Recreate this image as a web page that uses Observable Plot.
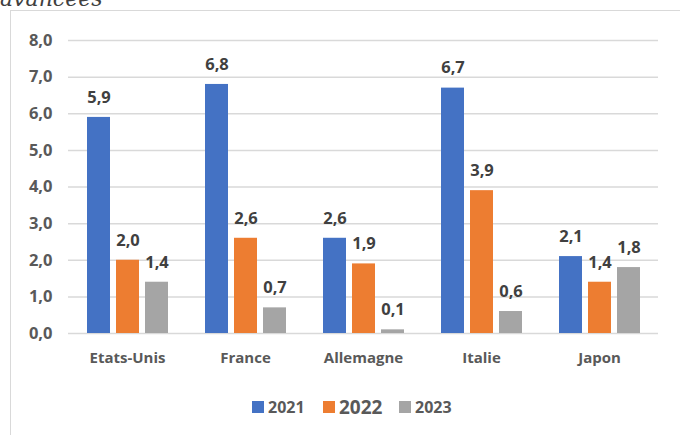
<!DOCTYPE html>
<html>
<head>
<meta charset="utf-8">
<script src="https://cdn.jsdelivr.net/npm/d3@7"></script>
<script src="https://cdn.jsdelivr.net/npm/@observablehq/plot@0.6"></script>
<style>
  html, body { margin: 0; padding: 0; background: #fff; width: 680px; height: 435px; overflow: hidden; position: relative; font-family: "Open Sans", sans-serif; }
  #title { position: absolute; left: 0; top: -12px; font: italic 22px/22px "DejaVu Serif", serif; color: #404040; white-space: nowrap; }
  #frame { position: absolute; left: 10px; top: 10px; width: 700px; height: 440px; border-left: 1px solid #d9d9d9; border-top: 1px solid #d9d9d9; }
  #chart { position: absolute; left: 0; top: 0; }
  #legend { position: absolute; top: 396px; left: 0; width: 680px; height: 22px; }
  .item { position: absolute; top: 0; display: flex; align-items: center; height: 22px; color: #595959; font-weight: bold; }
  .sw { width: 12px; height: 12px; margin-right: 4px; }
</style>
</head>
<body>
<div id="title">avancées</div>
<div id="frame"></div>
<div id="chart"></div>
<div id="legend"></div>
<script>
const countries = ["Etats-Unis", "France", "Allemagne", "Italie", "Japon"];
const years = ["2021", "2022", "2023"];
const values2021 = [5.9, 6.8, 2.6, 6.7, 2.1];
const values2022 = [2.0, 2.6, 1.9, 3.9, 1.4];
const values2023 = [1.4, 0.7, 0.1, 0.6, 1.8];
const colors = ["#4472C4", "#ED7D31", "#A5A5A5"];
const yTicks = [0, 1, 2, 3, 4, 5, 6, 7, 8];

const series = [values2021, values2022, values2023];
const data = [];
countries.forEach((c, i) => years.forEach((y, j) => data.push({country: c, year: y, value: series[j][i]})));
const fmt = d => d.toFixed(1).replace(".", ",");

const plot = Plot.plot({
  width: 680,
  height: 380,
  marginTop: 40,
  marginBottom: 47,
  marginLeft: 68,
  marginRight: 22,
  style: {fontFamily: "'Open Sans', sans-serif", background: "transparent"},
  fx: {domain: countries, padding: 0},
  x: {domain: years, paddingInner: 0.22, paddingOuter: 0.61},
  y: {domain: [0, 8]},
  color: {domain: years, range: colors},
  marks: [
    Plot.ruleY(yTicks, {stroke: "#d9d9d9", strokeWidth: 1.5}),
    Plot.axisY({ticks: yTicks, tickFormat: fmt, tickSize: 0, tickPadding: 16, label: null, fontSize: 16.5, fontWeight: "bold", fill: "#595959"}),
    Plot.axisFx({anchor: "bottom", tickSize: 0, tickPadding: 19, label: null, fontSize: 15, fontWeight: "bold", fill: "#595959"}),
    Plot.axisX({ticks: [], label: null}),
    Plot.barY(data, {fx: "country", x: "year", y: "value", fill: "year"}),
    Plot.text(data, {fx: "country", x: "year", y: "value", text: d => fmt(d.value), dy: -20, fontSize: 16.5, fontWeight: "bold", fill: "#404040"})
  ]
});
document.getElementById("chart").appendChild(plot);

const legend = document.getElementById("legend");
const lx = [252, 323, 399];
const sizes = [16, 19, 16];
years.forEach((y, j) => {
  const it = document.createElement("div");
  it.className = "item";
  it.style.left = lx[j] + "px";
  it.style.fontSize = sizes[j] + "px";
  const sw = document.createElement("div");
  sw.className = "sw";
  sw.style.background = colors[j];
  it.appendChild(sw);
  const t = document.createElement("span");
  t.textContent = y;
  it.appendChild(t);
  legend.appendChild(it);
});
</script>
</body>
</html>
